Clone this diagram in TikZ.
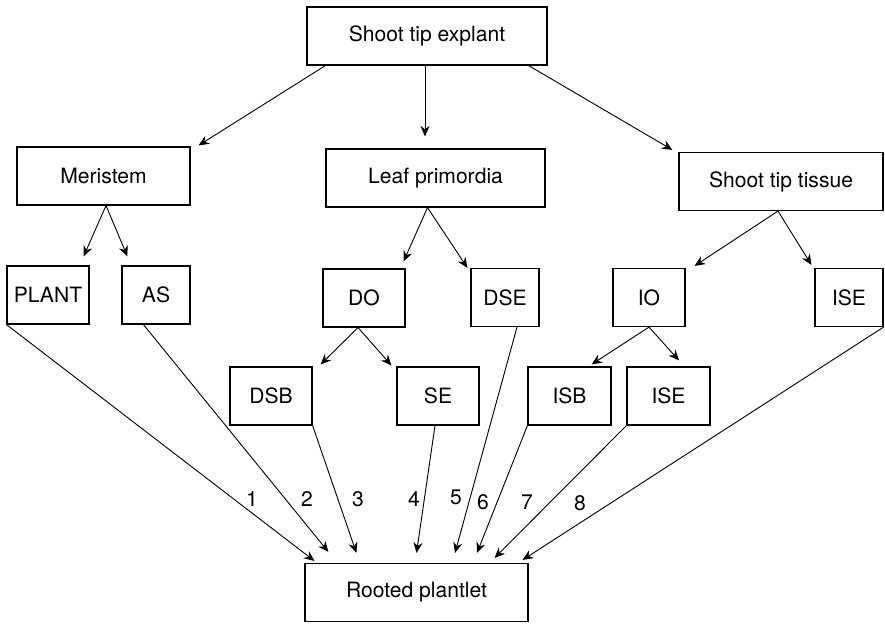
\documentclass[tikz,border=0pt]{standalone}
\usepackage{fontspec}
\setmainfont{TeX Gyre Heros}
\usetikzlibrary{arrows.meta, calc, positioning}

\tikzset{
  box/.style={draw, line width=0.8pt, minimum height=1.45cm, inner sep=2pt,
              font=\fontsize{15}{18}\selectfont},
  arr/.style={-{Stealth[length=7.5pt, width=6.5pt, inset=2.5pt]}, line width=0.65pt},
  num/.style={font=\fontsize{15}{18}\selectfont, inner sep=0pt}
}

\begin{document}
\begin{tikzpicture}[x=0.025cm, y=-0.025cm]
    \useasboundingbox (0,0) rectangle (885,623);

    % explant and its three parts
    \node[box, minimum width=6cm]     (explant)  at (427,36)    {Shoot tip explant};
    \node[box, minimum width=4.325cm] (meristem) at (103.5,176) {Meristem};
    \node[box, minimum width=5.475cm] (leafprim) at (435.5,178) {Leaf primordia};
    \node[box, minimum width=5.1cm]   (tissue)   at (781,181.5) {Shoot tip tissue};

    % culture routes
    \node[box, minimum width=2.05cm]  (plant) at (48,295)    {PLANT};
    \node[box, minimum width=1.7cm]   (as)    at (156,295)   {AS};
    \node[box, minimum width=2.05cm]  (do)    at (364,298)   {DO};
    \node[box, minimum width=1.7cm]   (dse)   at (505,297.5) {DSE};
    \node[box, minimum width=1.8cm]   (io)    at (649,297.5) {IO};
    \node[box, minimum width=1.7cm]   (ise)   at (849,297.5) {ISE};
    \node[box, minimum width=2.05cm]  (dsb)   at (271,396)   {DSB};
    \node[box, minimum width=2.05cm]  (se)    at (438,396)   {SE};
    \node[box, minimum width=2.075cm] (isb)   at (569.5,396) {ISB};
    \node[box, minimum width=2.075cm] (iseb)  at (668.5,396) {ISE};

    \node[box, minimum width=5.575cm] (rooted) at (416.5,592.5) {Rooted plantlet};

    % top level arrows
    \draw[arr] ($(explant.south west)+(19,0)$) -- ($(meristem.north east)+(8,-1)$);
    \draw[arr, shorten >=0.3cm] ($(explant.south)+(-2,0)$) -- ($(explant.south |- leafprim.north)+(-2,0)$);
    \draw[arr] ($(explant.south east)+(-19,0)$) -- ($(tissue.north west)+(-6,-2)$);

    % second level arrows
    \draw[arr] ($(meristem.south)+(2.5,0)$) -- ($(plant.north east)+(-6,-9)$);
    \draw[arr] ($(meristem.south)+(2.5,0)$) -- ($(as.north west)+(6,-9)$);
    \draw[arr] ($(leafprim.south)+(-8,0)$) -- ($(do.north east)+(-2,-7)$);
    \draw[arr] ($(leafprim.south)+(-8,0)$) -- ($(dse.north west)+(-3,0)$);
    \draw[arr] ($(tissue.south)+(-3,0)$) -- ($(io.north east)+(9,-2)$);
    \draw[arr] ($(tissue.south)+(-3,0)$) -- ($(ise.north west)+(-3,-3)$);

    % third level arrows
    \draw[arr] ($(do.south)+(-6,0)$) -- ($(dsb.north east)+(8,-2)$);
    \draw[arr] ($(do.south)+(-6,0)$) -- ($(se.north west)+(-5,-1)$);
    \draw[arr] (io.south) -- ($(isb.north east)+(-20,-2)$);
    \draw[arr] (io.south) -- ($(iseb.north)+(10.5,-6)$);

    % routes to the rooted plantlet
    \draw[arr] (plant.south west) -- ($(rooted.north west)+(10,-2)$);
    \draw[arr] ($(as.south west)+(22,0)$) -- ($(rooted.north west)+(24,-11)$);
    \draw[arr] (dsb.south east) -- ($(rooted.north west)+(52,-10)$);
    \draw[arr] ($(se.south)+(-3,0)$) -- ($(rooted.north)+(0,-10)$);
    \draw[arr] ($(dse.south)+(12,0)$) -- ($(rooted.north)+(38.5,-10)$);
    \draw[arr] (isb.south west) -- ($(rooted.north)+(60.5,-10)$);
    \draw[arr] (iseb.south west) -- ($(rooted.north east)+(-34,-5)$);
    \draw[arr] (ise.south east) -- ($(rooted.north east)+(-6,-3)$);

    % route numbers
    \foreach \n/\x/\y in {1/252/499, 2/307/499, 3/358/499, 4/414/499,
                          5/456/497, 6/483/502, 7/527/502, 8/580/503}
        \node[num] (n\n) at (\x,\y) {\n};
\end{tikzpicture}
\end{document}
